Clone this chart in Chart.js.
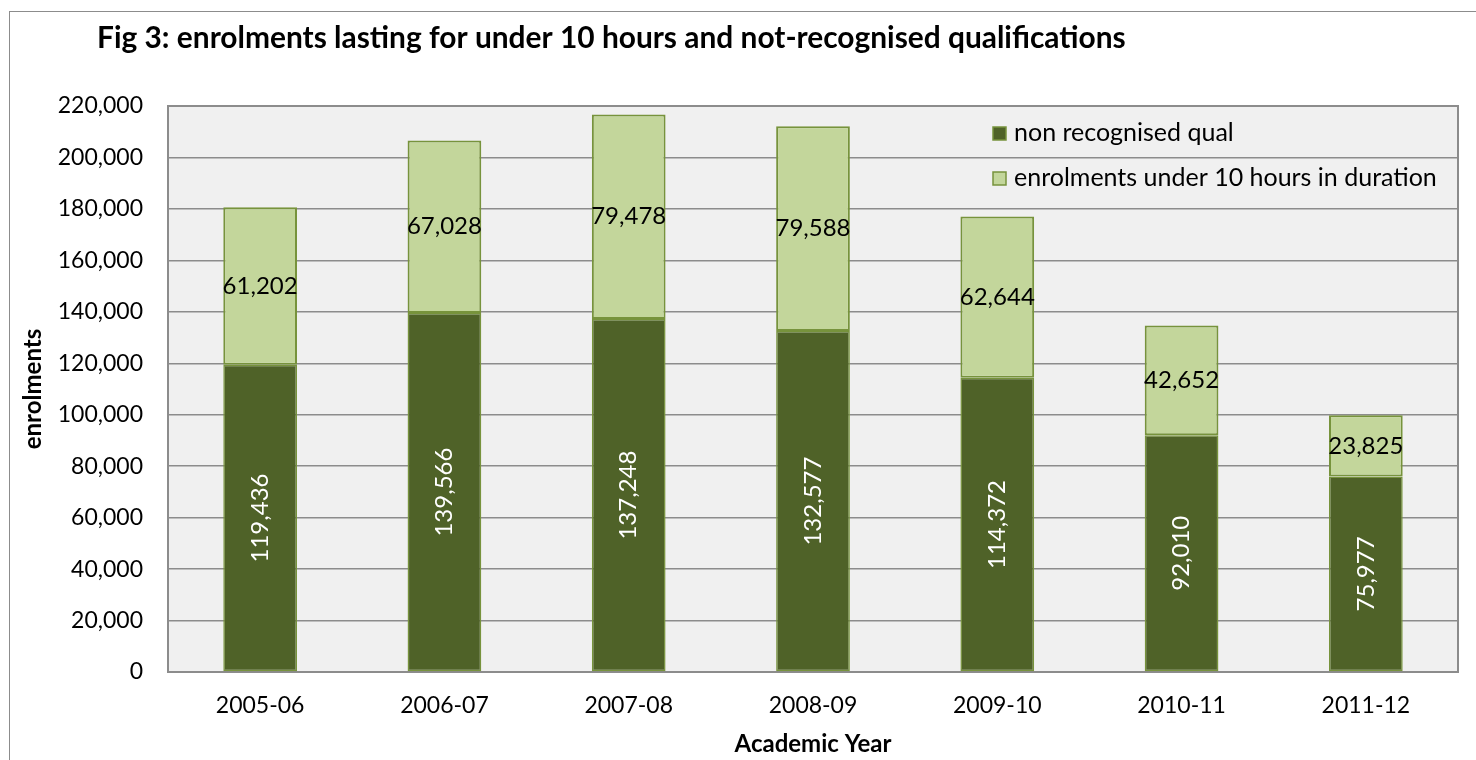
<!DOCTYPE html>
<html>
<head>
<meta charset="utf-8">
<script src="https://cdn.jsdelivr.net/npm/chart.js@4.4.1/dist/chart.umd.min.js"></script>
<style>
  body { margin: 0; background: #fff; overflow: hidden; }
  #frame { position: absolute; left: 9px; top: 11px; width: 1600px; height: 900px; border: 1.5px solid #8c8c8c; }
  #wrap { position: absolute; left: 0; top: 0; width: 1476px; height: 760px; }
</style>
</head>
<body>
<div id="frame"></div>
<div id="wrap"><canvas id="myChart"></canvas></div>
<script>
const years = ['2005-06', '2006-07', '2007-08', '2008-09', '2009-10', '2010-11', '2011-12'];
const nonRecognised = [119436, 139566, 137248, 132577, 114372, 92010, 75977];
const under10Hours = [61202, 67028, 79478, 79588, 62644, 42652, 23825];
const seriesNames = ['non recognised qual', 'enrolments under 10 hours in duration'];
const titleText = 'Fig 3: enrolments lasting for under 10 hours and not-recognised qualifications';

const darkGreen = '#4f6228';
const lightGreen = '#c3d69b';
const edgeGreen = '#77933c';
const fontName = 'Lato, Carlito, sans-serif';

Chart.defaults.color = '#000';
Chart.defaults.font.family = fontName;

const fmt = (v) => v.toLocaleString('en-US');

// plot background + border, title, legend, value labels
const extras = {
    id: 'extras',
    beforeDraw(chart) {
        const { ctx, chartArea: a } = chart;
        ctx.save();
        ctx.fillStyle = '#f0f0f0';
        ctx.fillRect(a.left, a.top, a.right - a.left, a.bottom - a.top);
        ctx.strokeStyle = '#8c8c8c';
        ctx.lineWidth = 2;
        ctx.strokeRect(a.left, a.top, a.right - a.left, a.bottom - a.top);
        ctx.restore();
    },
    afterDatasetsDraw(chart) {
        const { ctx } = chart;
        ctx.save();
        ctx.font = '24px ' + fontName;
        ctx.textAlign = 'center';
        ctx.textBaseline = 'middle';
        chart.data.datasets.forEach((ds, di) => {
            const meta = chart.getDatasetMeta(di);
            meta.data.forEach((bar, i) => {
                const y = (bar.y + bar.base) / 2;
                const txt = fmt(ds.data[i]);
                if (di === 0) {
                    ctx.save();
                    ctx.translate(bar.x, y);
                    ctx.rotate(-Math.PI / 2);
                    ctx.fillStyle = '#fff';
                    ctx.fillText(txt, 0, 0);
                    ctx.restore();
                } else {
                    ctx.fillStyle = '#000';
                    ctx.fillText(txt, bar.x, y);
                }
            });
        });
        ctx.restore();
    },
    afterDraw(chart) {
        const { ctx, chartArea: a } = chart;
        ctx.save();
        // title
        ctx.font = 'bold 25px ' + fontName;
        const w = ctx.measureText(titleText).width;
        const size = 25 * 1029 / w;
        ctx.font = 'bold ' + size.toFixed(2) + 'px ' + fontName;
        ctx.fillStyle = '#000';
        ctx.textBaseline = 'middle';
        ctx.textAlign = 'left';
        ctx.fillText(titleText, 97, 38);
        // legend
        ctx.font = '25px ' + fontName;
        const lx = a.right - 465;
        [darkGreen, lightGreen].forEach((c, i) => {
            const ly = a.top + 27 + i * 45;
            ctx.fillStyle = c;
            ctx.fillRect(lx, ly - 6, 13, 13);
            ctx.strokeStyle = edgeGreen;
            ctx.lineWidth = 1.5;
            ctx.strokeRect(lx, ly - 6, 13, 13);
            ctx.fillStyle = '#000';
            ctx.fillText(seriesNames[i], lx + 21, ly);
        });
        ctx.restore();
    }
};

const data = {
    labels: years,
    datasets: [{
        label: seriesNames[0],
        data: nonRecognised,
        backgroundColor: darkGreen,
        borderColor: edgeGreen,
        borderWidth: 1.5,
        borderSkipped: false,
        barPercentage: 0.4,
        categoryPercentage: 1
    }, {
        label: seriesNames[1],
        data: under10Hours,
        backgroundColor: lightGreen,
        borderColor: edgeGreen,
        borderWidth: 2,
        borderSkipped: false,
        barPercentage: 0.4,
        categoryPercentage: 1
    }]
};

const config = {
    type: 'bar',
    data,
    plugins: [extras],
    options: {
        responsive: false,
        animation: false,
        layout: { padding: { top: 106, right: 18, left: 0, bottom: 0 } },
        plugins: {
            legend: { display: false },
            tooltip: { enabled: false }
        },
        scales: {
            x: {
                stacked: true,
                grid: { display: false, drawTicks: false },
                border: { display: false },
                ticks: { font: { size: 23 }, padding: 20 },
                title: { display: true, text: 'Academic Year', font: { size: 24, weight: 'bold' }, padding: { top: 0, bottom: 1 } },
                afterFit(scale) { scale.height = 88; }
            },
            y: {
                stacked: true,
                min: 0,
                max: 220000,
                grid: { color: '#8c8c8c', lineWidth: 1.5, drawTicks: false },
                border: { display: false },
                ticks: { stepSize: 20000, font: { size: 23 }, padding: 25, callback: (v) => fmt(v) },
                title: { display: true, text: 'enrolments', font: { size: 24, weight: 'bold' }, padding: { top: 19, bottom: 0 } },
                afterFit(scale) { scale.width = 168; }
            }
        }
    }
};

const canvas = document.getElementById('myChart');
canvas.width = 1476;
canvas.height = 760;
const myChart = new Chart(canvas, config);
</script>
</body>
</html>
